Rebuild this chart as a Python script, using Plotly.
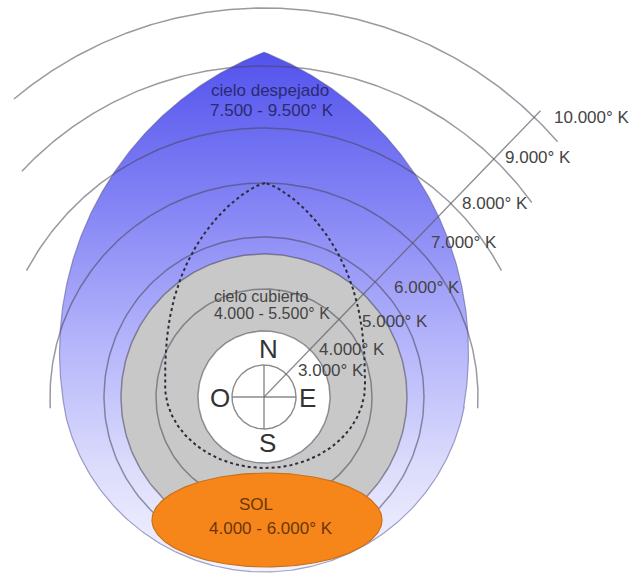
import numpy as np
import plotly.graph_objects as go

# ---------------- data ----------------
TEMP_LABELS = ["3.000° K", "4.000° K", "5.000° K", "6.000° K",
               "7.000° K", "8.000° K", "9.000° K", "10.000° K"]
RING_RADII = [66, 108, 143, 160, 214, 269, 331, 389]
# visible angular span of each ring (degrees, counter-clockwise from east)
RING_SPANS = [(0, 360), (0, 360), (0, 360), (0, 360),
              (-3, 183), (28, 152), (36, 137), (41, 130)]
LABEL_POS = [(331, 370), (352, 349), (395, 321), (427, 287),
             (464, 242), (495, 203), (538, 157), (592, 117)]

COMPASS = ["N", "S", "O", "E"]
ZONE_TEXT = {
    "despejado": ("cielo despejado", "7.500 - 9.500° K"),
    "cubierto": ("cielo cubierto", "4.000 - 5.500° K"),
    "sol": ("SOL", "4.000 - 6.000° K"),
}

# ---------------- geometry (pixel space, y down) ----------------
CX, CY = 264, 397
W, H = 631, 574
FONT = "Liberation Sans, Arial, sans-serif"


def arc(cx, cy, r, a0, a1, n=240, ry=None):
    """math angles (deg, y up) -> pixel coords (y down)"""
    ry = r if ry is None else ry
    t = np.radians(np.linspace(a0, a1, n))
    return cx + r * np.cos(t), cy - ry * np.sin(t)


# clear-sky shape: pointed arch on top + round bottom
R_ARCH = 322
arch_cy = 352
tip = (CX, arch_cy - np.sqrt(R_ARCH**2 - 117.5**2))
lc = (CX + 117.5, arch_cy)
rc = (CX - 117.5, arch_cy)
low_c = (CX, 368)
R_LOW = 204
ky = 407
kx = np.sqrt(R_LOW**2 - (ky - low_c[1])**2)
left_k = (CX - kx, ky)
right_k = (CX + kx, ky)

# left arch: from tip down to left kink
t0 = np.arctan2(tip[1] - lc[1], tip[0] - lc[0]) + 2 * np.pi
t1 = np.arctan2(left_k[1] - lc[1], left_k[0] - lc[0])
t = np.linspace(t0, t1, 200)
lx, ly = lc[0] + R_ARCH * np.cos(t), lc[1] + R_ARCH * np.sin(t)
# bottom round
t0 = np.arctan2(left_k[1] - low_c[1], left_k[0] - low_c[0])
t1 = np.arctan2(right_k[1] - low_c[1], right_k[0] - low_c[0])
t = np.linspace(t0, t1, 200)
bx, by = low_c[0] + R_LOW * np.cos(t), low_c[1] + R_LOW * np.sin(t)
# right arch: from right kink up to tip
t0 = np.arctan2(right_k[1] - rc[1], right_k[0] - rc[0])
t1 = np.arctan2(tip[1] - rc[1], tip[0] - rc[0])
t = np.linspace(t0, t1, 200)
rx, ry = rc[0] + R_ARCH * np.cos(t), rc[1] + R_ARCH * np.sin(t)
blue_x = np.concatenate([lx, bx, rx])
blue_y = np.concatenate([ly, by, ry])

# dashed overcast-sky outline (egg shape)
egg_cx, egg_cy, egg_a, egg_b, egg_top = 265, 385, 100, 83, 183
yy = np.linspace(egg_top, egg_cy, 150)
tt = (egg_cy - yy) / (egg_cy - egg_top)
ww = egg_a * np.clip(1 - tt**2.5, 0, 1) ** 0.75
ex_b, ey_b = arc(egg_cx, egg_cy, egg_a, 180, 360, 150, ry=egg_b)
egg_x = np.concatenate([egg_cx - ww, ex_b, (egg_cx + ww)[::-1]])
egg_y = np.concatenate([yy, ey_b, yy[::-1]])

fig = go.Figure()
common = dict(mode="lines", hoverinfo="skip", showlegend=False)

# clear sky gradient fill
fig.add_trace(go.Scatter(
    x=blue_x, y=blue_y, fill="toself", line=dict(width=0, color="rgba(0,0,0,0)"),
    fillgradient=dict(type="vertical", start=52, stop=572,
                      colorscale=[[0, "#5252ee"], [0.3, "#8585f5"],
                                  [0.55, "#b3b3fb"], [0.8, "#dcdcfc"],
                                  [1, "#f4f4ff"]]),
    **common))

# overcast gray disk
gx, gy = arc(CX, CY, RING_RADII[2], 0, 360)
fig.add_trace(go.Scatter(x=gx, y=gy, fill="toself", fillcolor="#c8c8c8",
                         line=dict(width=0, color="rgba(0,0,0,0)"), **common))
# white center disk
wx, wy = arc(CX, CY, RING_RADII[0], 0, 360)
fig.add_trace(go.Scatter(x=wx, y=wy, fill="toself", fillcolor="#ffffff",
                         line=dict(width=0, color="rgba(0,0,0,0)"), **common))

# temperature rings
for r, (a0, a1) in zip(RING_RADII, RING_SPANS):
    x, y = arc(CX, CY, r, a0, a1)
    fig.add_trace(go.Scatter(x=x, y=y, line=dict(color="rgba(70,70,85,0.55)", width=1.5),
                             **common))

# outline of clear sky shape
fig.add_trace(go.Scatter(x=blue_x, y=blue_y,
                         line=dict(color="rgba(90,90,150,0.55)", width=1.2), **common))

# compass
ccx, ccy = arc(CX, CY, 32, 0, 360)
fig.add_trace(go.Scatter(x=ccx, y=ccy, line=dict(color="#8a8a8a", width=1.4), **common))
fig.add_trace(go.Scatter(x=[CX - 32, CX + 32, None, CX, CX],
                         y=[CY, CY, None, CY - 32, CY + 32],
                         line=dict(color="#8a8a8a", width=1.4), **common))

# diagonal scale line
dx, dy = arc(CX, CY, 398, 46, 46, 2)
fig.add_trace(go.Scatter(x=[CX, dx[0]], y=[CY, dy[0]],
                         line=dict(color="rgba(90,90,100,0.7)", width=1.3), **common))

# dashed overcast outline
fig.add_trace(go.Scatter(x=egg_x, y=egg_y,
                         line=dict(color="#2c2c3c", width=2, dash="dot"), **common))

# sun ellipse
sx, sy = arc(267, 520, 115, 0, 360, ry=47)
fig.add_trace(go.Scatter(x=sx, y=sy, fill="toself", fillcolor="#f7861a",
                         line=dict(color="#c9701a", width=1.2), **common))

# ---------------- text ----------------
ann = []


def add_text(x, y, s, size, color):
    ann.append(dict(x=x, y=y, text=s, showarrow=False, xanchor="center",
                    yanchor="middle", font=dict(family=FONT, size=size, color=color)))


for lbl, (x, y) in zip(TEMP_LABELS, LABEL_POS):
    add_text(x, y, lbl, 17, "#444444")

add_text(270, 90, ZONE_TEXT["despejado"][0], 17, "#2a2a70")
add_text(272, 110, ZONE_TEXT["despejado"][1], 17, "#2a2a70")
add_text(261, 296, ZONE_TEXT["cubierto"][0], 16, "#444444")
add_text(272, 313, ZONE_TEXT["cubierto"][1], 16, "#444444")
add_text(256, 504, ZONE_TEXT["sol"][0], 17, "#6a3608")
add_text(271, 528, ZONE_TEXT["sol"][1], 17, "#6a3608")

compass_pos = {"N": (268, 349), "S": (267, 443), "O": (220, 398), "E": (307, 398)}
for c in COMPASS:
    add_text(*compass_pos[c], c, 26, "#333333")

fig.update_layout(
    width=W, height=H, autosize=False,
    margin=dict(l=0, r=0, t=0, b=0),
    paper_bgcolor="white", plot_bgcolor="white",
    xaxis=dict(range=[0, W], visible=False, fixedrange=True),
    yaxis=dict(range=[H, 0], visible=False, fixedrange=True),
    annotations=ann,
)

fig.write_html("out.html", config={"displayModeBar": False},
               post_script="document.body.style.margin='0';document.body.style.overflow='hidden';")
